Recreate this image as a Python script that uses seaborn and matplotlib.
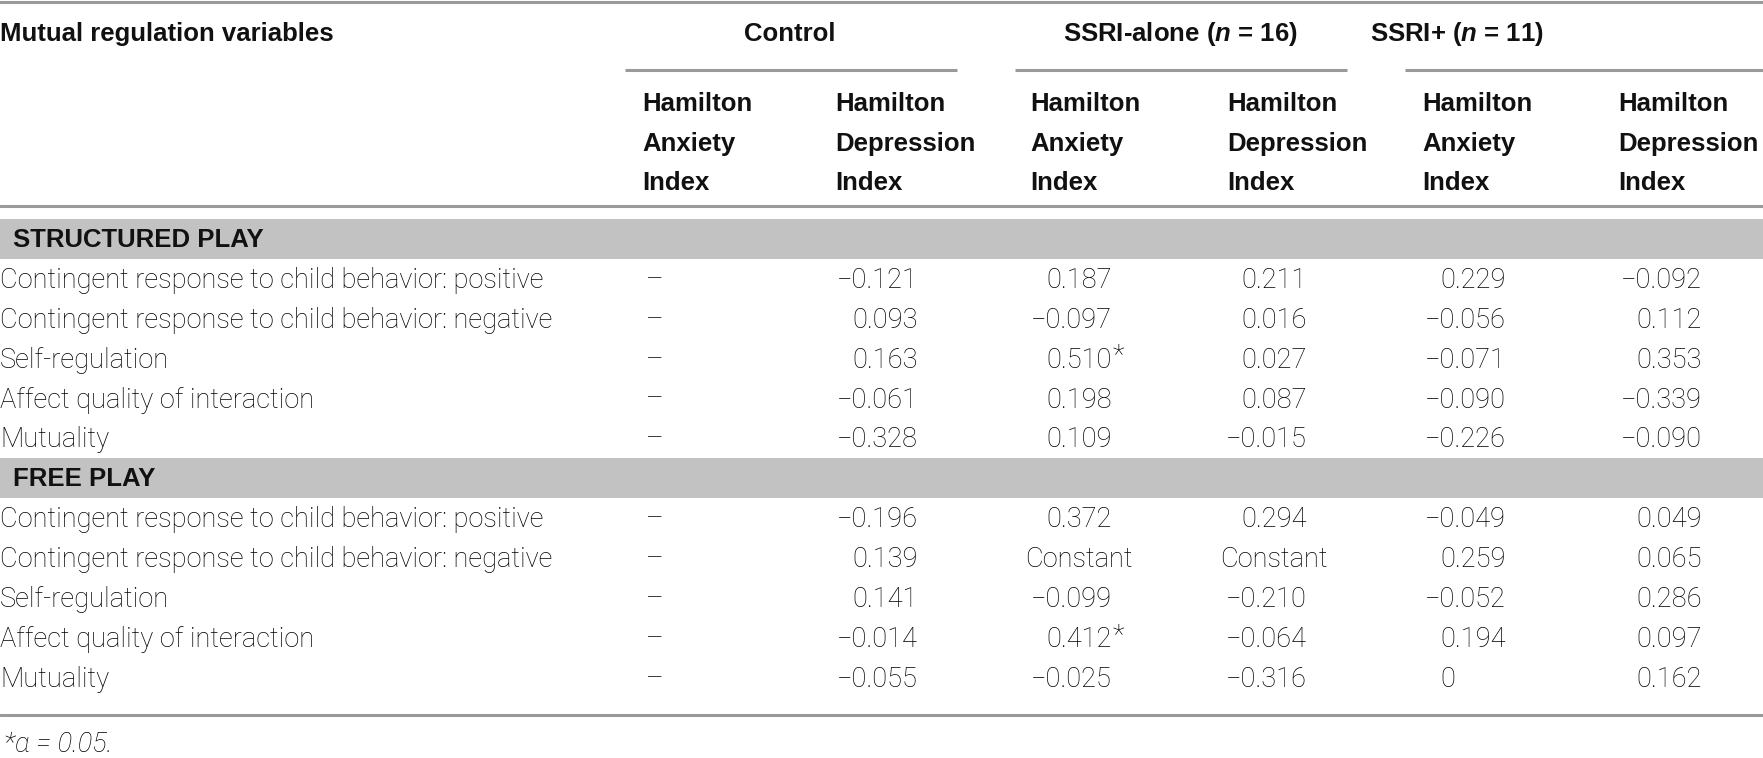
import numpy as np
import matplotlib
matplotlib.use("Agg")
import matplotlib.pyplot as plt
import seaborn as sns

# table content
groups = ["Control", "SSRI-alone ($\\mathit{n}$ = 16)", "SSRI+ ($\\mathit{n}$ = 11)"]
sub_headers = ["Hamilton\nAnxiety\nIndex", "Hamilton\nDepression\nIndex"] * 3
sections = ["STRUCTURED PLAY", "FREE PLAY"]
row_labels = [
    "Contingent response to child behavior: positive",
    "Contingent response to child behavior: negative",
    "Self-regulation",
    "Affect quality of interaction",
    "Mutuality",
]
structured = [
    ["–", "−0.121", "0.187", "0.211", "0.229", "−0.092"],
    ["–", "0.093", "−0.097", "0.016", "−0.056", "0.112"],
    ["–", "0.163", "0.510*", "0.027", "−0.071", "0.353"],
    ["–", "−0.061", "0.198", "0.087", "−0.090", "−0.339"],
    ["–", "−0.328", "0.109", "−0.015", "−0.226", "−0.090"],
]
free = [
    ["–", "−0.196", "0.372", "0.294", "−0.049", "0.049"],
    ["–", "0.139", "Constant", "Constant", "0.259", "0.065"],
    ["–", "0.141", "−0.099", "−0.210", "−0.052", "0.286"],
    ["–", "−0.014", "0.412*", "−0.064", "0.194", "0.097"],
    ["–", "−0.055", "−0.025", "−0.316", "0", "0.162"],
]
footnote = "*α = 0.05."

sns.set_style("white")
plt.rcParams["mathtext.fontset"] = "custom"
plt.rcParams["mathtext.it"] = "Liberation Sans:italic:bold"
plt.rcParams["mathtext.rm"] = "Liberation Sans:bold"

body = dict(family=["Roboto", "Liberation Sans", "DejaVu Sans"], weight="light", size=19.6, color="black")
head = dict(family=["Liberation Sans", "DejaVu Sans"], weight="bold", size=18.5, color="#111111")

W, H = 1763, 758
fig = plt.figure(figsize=(W / 100, H / 100), dpi=100)
ax = fig.add_axes([0, 0, 1, 1])
ax.set_xlim(0, W)
ax.set_ylim(H, 0)
ax.axis("off")
renderer = fig.canvas.get_renderer()

rule = "#9a9a9a"
band = "#c2c2c2"

# column positions
head_x = [642, 835, 1030, 1227, 1422, 1618]
num_right = [None, 918, 1112, 1307, 1506, 1702]
dash_x = 655
group_cx = [790, 1180, 1457]
group_lines = [(625, 957), (1015, 1347), (1405, W)]

# width of a plain number, used for the non-decimal entries
probe = ax.text(0, 0, "0.000", **body)
num_w = probe.get_window_extent(renderer).width
probe.remove()

# header
ax.axhline(1.5, color=rule, lw=2.2)
ax.text(0, 34, "Mutual regulation variables", ha="left", va="center", **head)
for g, cx, (x0, x1) in zip(groups, group_cx, group_lines):
    ax.text(cx, 34, g, ha="center", va="center", **head)
    ax.plot([x0, x1], [70, 70], color=rule, lw=2.2, solid_capstyle="butt")
for sh, x in zip(sub_headers, head_x):
    for i, line in enumerate(sh.split("\n")):
        ax.text(x, 104 + i * 39.7, line, ha="left", va="center", **head)
ax.axhline(206, color=rule, lw=2.2)

row_h = 39.9
top = 219


def draw_cell(val, j, y):
    if j == 0:
        ax.text(dash_x, y, val, ha="center", va="center", **body)
        return
    r = num_right[j]
    if val.endswith("*"):
        ax.text(r, y, val[:-1], ha="right", va="center", **body)
        ax.text(r + 1, y - 4, "*", ha="left", va="center", **body)
    elif "." in val:
        ax.text(r, y, val, ha="right", va="center", **body)
    elif val[0].isdigit():
        ax.text(r - num_w, y, val, ha="left", va="center", **body)
    else:
        ax.text(r - num_w / 2, y, val, ha="center", va="center", **body)


k = 0
for name, block in zip(sections, [structured, free]):
    y0 = top + k * row_h
    ax.add_patch(plt.Rectangle((0, y0), W, row_h, color=band, lw=0))
    ax.text(13, y0 + row_h / 2 + 1, name, ha="left", va="center", **head)
    k += 1
    for label, vals in zip(row_labels, block):
        y = top + k * row_h + row_h / 2 + 1.5
        ax.text(0, y, label, ha="left", va="center", **body)
        for j, v in enumerate(vals):
            draw_cell(v, j, y)
        k += 1

ax.axhline(715, color=rule, lw=2.2)
ax.text(4, 745, footnote, ha="left", va="center", style="italic", **body)

fig.savefig("out.png", dpi=100)
